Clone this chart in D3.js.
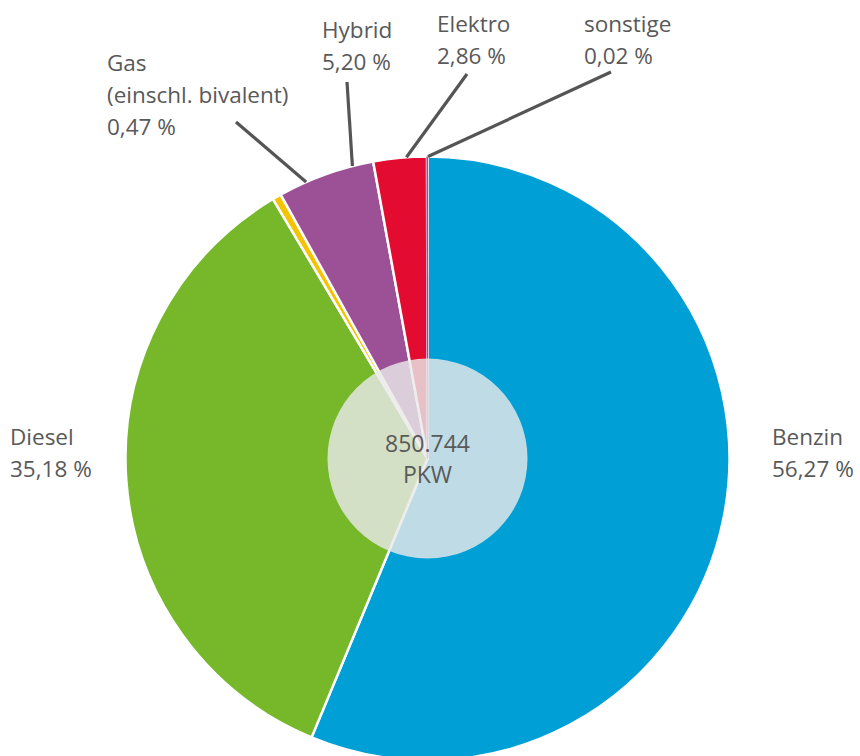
<!DOCTYPE html>
<html><head><meta charset="utf-8">
<script src="https://cdn.jsdelivr.net/npm/d3@7"></script>
<style>body{margin:0;background:#fff}svg{display:block}</style>
</head><body>
<svg id="chart" width="860" height="756"></svg>
<script>
const categories = ["Benzin","Diesel","Gas","Hybrid","Elektro","sonstige"];
const labelLines = [["Benzin"],["Diesel"],["Gas","(einschl. bivalent)"],["Hybrid"],["Elektro"],["sonstige"]];
const shares = [56.27, 35.18, 0.47, 5.20, 2.86, 0.02];
const shareLabels = ["56,27 %","35,18 %","0,47 %","5,20 %","2,86 %","0,02 %"];
const colors = ["#009fd6","#77b82a","#f5c300","#9c5197","#e30b2f","#9c5197"];
const totalLabel = ["850.744","PKW"];

// layout (label positions, leader line ends as angles in degrees)
const cx = 427.5, cy = 458.5, R = 302, rInner = 100;
const labelPos = [
  {x:772, y:445, line:null},
  {x:10, y:445, line:null},
  {x:107, y:71, line:{x1:236,y1:122, ang:-23.7}},
  {x:322, y:38, line:{x1:347,y1:82, ang:-14.4}},
  {x:437, y:32, line:{x1:467,y1:74, ang:-4.0}},
  {x:584, y:32, line:{x1:611,y1:72, ang:0.1}}
];
const fontSize = 22.5;

const svg = d3.select("#chart");
const g = svg.append("g").attr("transform",`translate(${cx},${cy})`);
const data = categories.map((c,i)=>({name:c, value:shares[i], color:colors[i]}));
const pie = d3.pie().value(d=>d.value).sort(null);
const arcs = pie(data);
const arc = d3.arc().innerRadius(0).outerRadius(R);

g.selectAll("path.slice").data(arcs).join("path")
  .attr("class","slice")
  .attr("d",arc)
  .attr("fill",d=>d.data.color)
  .attr("stroke","#fff").attr("stroke-width",2.5).attr("stroke-linejoin","round");

// thin slice (sonstige) drawn as a visible line along its mid angle
arcs.filter(a=>a.data.value<0.1).forEach(a=>{
  const m=(a.startAngle+a.endAngle)/2;
  g.append("line").attr("x1",0).attr("y1",0)
   .attr("x2",Math.sin(m)*R).attr("y2",-Math.cos(m)*R)
   .attr("stroke",a.data.color).attr("stroke-width",1.8);
});

// inner translucent circle
g.append("circle").attr("r",rInner).attr("fill","#e9e9e9").attr("fill-opacity",0.82);

// center text
const ct = g.append("text").attr("text-anchor","middle")
  .attr("font-family","'Open Sans', sans-serif").attr("font-size",fontSize+0.5).attr("fill","#595959");
totalLabel.forEach((t,i)=>ct.append("tspan").attr("x",0).attr("y",-7+i*31.5).text(t));

// leader lines
labelPos.forEach((p,i)=>{
  if(!p.line) return;
  const a = p.line.ang*Math.PI/180;
  svg.append("line").attr("x1",p.line.x1).attr("y1",p.line.y1)
    .attr("x2",cx+Math.sin(a)*R).attr("y2",cy-Math.cos(a)*R)
    .attr("stroke","#555").attr("stroke-width",3.2);
});

// labels
labelPos.forEach((p,i)=>{
  const t = svg.append("text").attr("font-family","'Open Sans', sans-serif")
    .attr("font-size",fontSize).attr("fill","#595959");
  const lines = labelLines[i].concat([shareLabels[i]]);
  lines.forEach((l,j)=>t.append("tspan").attr("x",p.x).attr("y",p.y+j*32).text(l));
});
</script>
</body></html>
